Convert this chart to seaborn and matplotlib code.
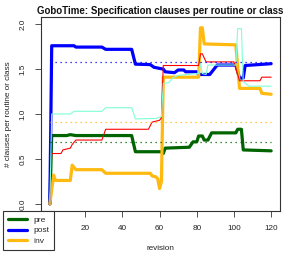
import matplotlib
matplotlib.use("Agg")
import matplotlib.pyplot as plt
import seaborn as sns
from matplotlib.lines import Line2D

sns.set_style("white")
plt.rcParams['font.family'] = ['Liberation Sans', 'DejaVu Sans']

# ---- data ----
rev_pre = [1, 2, 10, 12, 15, 45, 47, 61, 62, 63, 76, 78, 80, 81, 83, 84, 86, 88, 101, 102, 104, 105, 120]
pre = [0.0, 0.76, 0.76, 0.77, 0.76, 0.76, 0.58, 0.58, 0.56, 0.62, 0.63, 0.69, 0.69, 0.755, 0.755,
       0.71, 0.71, 0.79, 0.79, 0.83, 0.83, 0.60, 0.59]

rev_post = [1, 2, 14, 15, 29, 31, 45, 47, 55, 57, 62, 63, 68, 70, 73, 74, 80, 81, 87, 91, 101, 103, 105, 106, 120]
post = [0.0, 1.76, 1.76, 1.745, 1.745, 1.72, 1.72, 1.555, 1.55, 1.52, 1.50, 1.47, 1.46, 1.49, 1.49,
        1.47, 1.47, 1.44, 1.44, 1.545, 1.545, 1.40, 1.40, 1.54, 1.56]

rev_inv = [1, 3, 4, 12, 13, 15, 29, 31, 55, 56, 58, 59, 60, 61, 62, 81, 82, 83, 84, 101, 103, 114, 115, 120]
inv = [0.0, 0.32, 0.26, 0.26, 0.43, 0.38, 0.38, 0.34, 0.34, 0.31, 0.30, 0.28, 0.17, 0.25, 1.41,
       1.41, 1.96, 1.96, 1.78, 1.77, 1.285, 1.285, 1.23, 1.22]

rev_red = [1, 2, 7, 8, 12, 13, 15, 29, 31, 54, 56, 60, 61, 62, 81, 82, 83, 85, 100, 103, 114, 115, 120]
red = [0.0, 0.56, 0.56, 0.60, 0.62, 0.66, 0.71, 0.71, 0.83, 0.83, 0.91, 0.93, 0.96, 1.54, 1.54,
       1.67, 1.67, 1.58, 1.58, 1.37, 1.37, 1.41, 1.41]

rev_aqua = [1, 2, 12, 14, 29, 31, 45, 47, 58, 61, 62, 65, 67, 70, 80, 81, 82, 83, 85, 86, 101, 102,
            104, 105, 108, 120]
aqua = [0.0, 1.00, 1.00, 1.03, 1.03, 1.07, 1.07, 0.945, 0.95, 0.97, 1.34, 1.35, 1.40, 1.43, 1.45,
        1.45, 1.56, 1.45, 1.44, 1.545, 1.545, 1.95, 1.95, 1.36, 1.31, 1.31]

avg_rev = [1, 120]
avg_pre = 0.69
avg_post = 1.58
avg_inv = 0.91

labels = ['pre', 'post', 'inv']
x_ticks = [20, 40, 60, 80, 100, 120]
y_ticks = [0.0, 0.5, 1.0, 1.5, 2.0]
c_pre, c_post, c_inv = '#006400', '#0000FF', '#FFB90F'

W, H = 294, 254
fig = plt.figure(figsize=(W / 100, H / 100), dpi=100)
L, R, T, B = 41, 280, 17, 211
ax = fig.add_axes([L / W, 1 - B / H, (R - L) / W, (B - T) / H])

thick = 2.3
sns.lineplot(x=rev_pre, y=pre, ax=ax, color=c_pre, linewidth=thick, estimator=None, sort=False)
sns.lineplot(x=rev_post, y=post, ax=ax, color=c_post, linewidth=thick, estimator=None, sort=False)
sns.lineplot(x=rev_inv, y=inv, ax=ax, color=c_inv, linewidth=thick, estimator=None, sort=False)
sns.lineplot(x=rev_red, y=red, ax=ax, color='red', linewidth=0.8, estimator=None, sort=False)
sns.lineplot(x=rev_aqua, y=aqua, ax=ax, color='#7FFFD4', linewidth=0.8, estimator=None, sort=False)
for v, c in [(avg_pre, c_pre), (avg_post, c_post), (avg_inv, c_inv)]:
    sns.lineplot(x=avg_rev, y=[v, v], ax=ax, color=c, linewidth=0.9,
                 linestyle=(0, (1, 3)), estimator=None, sort=False)

ax.set_xlim(-3.76, 124.76)
ax.set_ylim(-0.08, 2.08)
ax.set_xticks(x_ticks)
ax.set_yticks(y_ticks)
ax.set_yticklabels([f'{v:.1f}' for v in y_ticks], rotation=90, va='center')
ax.tick_params(axis='both', labelsize=5.9, length=4, width=0.6, color='#333333',
               labelcolor='#222222', direction='out')
ax.tick_params(axis='x', bottom=True, pad=6)
ax.tick_params(axis='y', left=True, pad=6.5)
for s in ax.spines.values():
    s.set_color('#333333')
    s.set_linewidth(0.8)
ax.set_xlabel('')
ax.set_ylabel('')

fig.text((L + R) / 2 / W, 1 - 10.5 / H, 'GoboTime: Specification clauses per routine or class',
         ha='center', va='center', fontsize=7.0, fontweight='bold', color='#111111')
fig.text((L + R) / 2 / W, 1 - 249 / H, 'revision', ha='center', va='center', fontsize=5.9,
         color='#222222')
fig.text(8.5 / W, 1 - 114 / H, '# clauses per routine or class', ha='center', va='center',
         rotation=90, fontsize=5.9, color='#222222')

handles = [Line2D([], [], color=c, linewidth=thick) for c in (c_pre, c_post, c_inv)]
leg = fig.legend(handles, labels, loc='upper left', bbox_to_anchor=(2.7 / W, 1 - 211 / H),
                 borderaxespad=0, frameon=True, fancybox=False, edgecolor='#333333',
                 framealpha=1, facecolor='white', fontsize=6.1, handlelength=2.3,
                 handletextpad=0.7, labelspacing=0.3, borderpad=0.6)
leg.get_frame().set_linewidth(0.8)

fig.savefig('out.png', dpi=100)
